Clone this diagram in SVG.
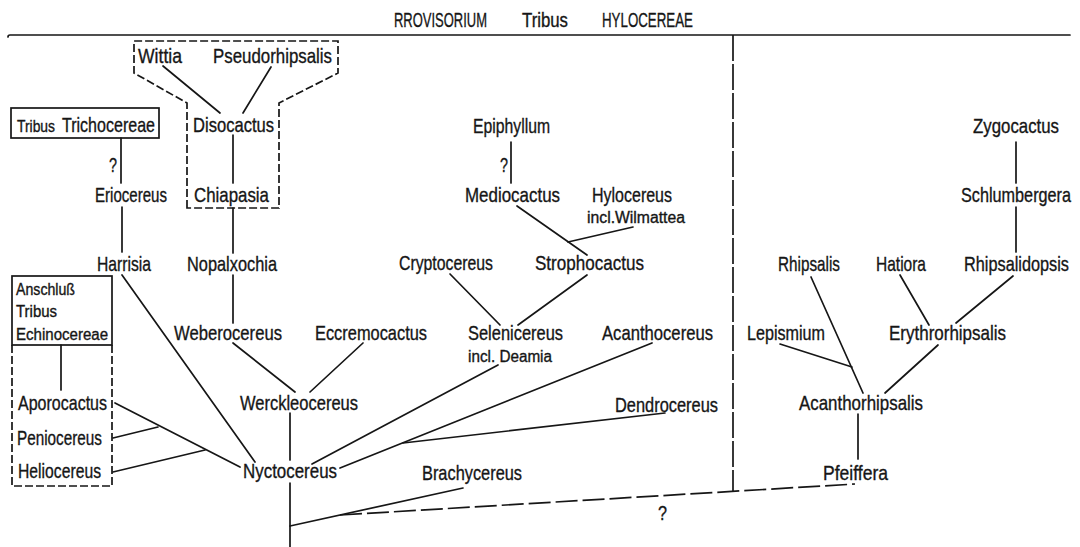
<svg xmlns="http://www.w3.org/2000/svg" width="1080" height="547" viewBox="0 0 1080 547">
  <style>
    text { font-family: "Liberation Sans", "DejaVu Sans", sans-serif; fill: #161616; stroke: #161616; stroke-width: 0.35; }
    .n { font-size: 21px; }
    .s { font-size: 16px; }
    .mid { text-anchor: middle; }
    .end { text-anchor: end; }
    .ln { stroke: #161616; stroke-width: 1.7; fill: none; stroke-linecap: round; }
    .dash { stroke-dasharray: 8 3; stroke-linecap: butt; }
    .longdash { stroke-dasharray: 22 5; stroke-linecap: butt; }
    .sep { stroke-dasharray: 26 3; stroke-linecap: butt; }
  </style>
  <rect width="1080" height="547" fill="#ffffff"/>

  <!-- heading -->
  <g id="heading">
    <text class="n mid" x="440.5" y="27" textLength="93" lengthAdjust="spacingAndGlyphs">RROVISORIUM</text>
    <text class="n mid" x="545" y="27" textLength="46" lengthAdjust="spacingAndGlyphs">Tribus</text>
    <text class="n mid" x="647.5" y="27" textLength="91" lengthAdjust="spacingAndGlyphs">HYLOCEREAE</text>
  </g>

  <!-- connectors -->
  <g id="connectors" class="ln">
    <path d="M8,37 Q8,35 10,35 L1070,35"/>
    <path class="sep" d="M733,35 L733,492"/>
    <path class="longdash" d="M340,515 L855,484"/>
    <path d="M121,138 L121,183"/>
    <path d="M122,207 L122,252"/>
    <path d="M163,66 L220,113"/>
    <path d="M271,67 L243,113"/>
    <path d="M233,135 L233,183"/>
    <path d="M233,208 L233,253"/>
    <path d="M233,275 L233,323"/>
    <path d="M122,275 L255,462"/>
    <path d="M233,343 L295,392"/>
    <path d="M363,343 L310,392"/>
    <path d="M290,413 L290,460"/>
    <path d="M61,345 L61,390"/>
    <path d="M115,403 L240,467"/>
    <path d="M113,438 L158,427"/>
    <path d="M113,472 L205,450"/>
    <path d="M312,464 L498,365"/>
    <path d="M340,468 L652,343"/>
    <path d="M403,443 L665,413"/>
    <path d="M290,483 L290,547"/>
    <path d="M290,526 L463,488"/>
    <path d="M511,142 L511,183"/>
    <path d="M517,206 L587,255"/>
    <path d="M633,227 L568,242"/>
    <path d="M450,274 L500,325"/>
    <path d="M587,275 L518,325"/>
    <path d="M1016,142 L1016,183"/>
    <path d="M1016,207 L1016,252"/>
    <path d="M811,277 L863,393"/>
    <path d="M900,275 L929,325"/>
    <path d="M1013,276 L956,323"/>
    <path d="M780,344 L852,367"/>
    <path d="M938,345 L885,393"/>
    <path d="M858,414 L858,459"/>
  </g>

  <!-- question marks on uncertain links -->
  <g id="uncertain">
    <text class="n" x="109" y="172" textLength="8" lengthAdjust="spacingAndGlyphs">?</text>
    <text class="n" x="500" y="172" textLength="8" lengthAdjust="spacingAndGlyphs">?</text>
    <text class="n" x="658" y="520" textLength="9" lengthAdjust="spacingAndGlyphs">?</text>
  </g>

  <!-- Disocactus group with its dashed outline -->
  <g id="disocactus-group">
    <path class="ln dash" d="M187,208 L187,103 L134,73 L134,41 L338,41 L338,73 L279,103 L279,208 Z"/>
    <g id="wittia"><text class="n" x="138" y="63" textLength="44" lengthAdjust="spacingAndGlyphs">Wittia</text></g>
    <g id="pseudorhipsalis"><text class="n" x="213" y="63" textLength="119" lengthAdjust="spacingAndGlyphs">Pseudorhipsalis</text></g>
    <g id="disocactus"><text class="n" x="193" y="132" textLength="81" lengthAdjust="spacingAndGlyphs">Disocactus</text></g>
    <g id="chiapasia"><text class="n" x="194" y="202" textLength="75" lengthAdjust="spacingAndGlyphs">Chiapasia</text></g>
  </g>

  <g id="trichocereae">
    <rect class="ln" x="11" y="108" width="148" height="30"/>
    <text class="s" x="17" y="132" textLength="38" lengthAdjust="spacingAndGlyphs">Tribus</text>
    <text class="n" x="62" y="132" textLength="93" lengthAdjust="spacingAndGlyphs">Trichocereae</text>
  </g>

  <g id="echinocereae">
    <rect class="ln" x="12" y="276" width="100" height="69"/>
    <path class="ln dash" d="M12,345 L12,486 L112,486 L112,345"/>
    <text class="s" x="16" y="295" textLength="59" lengthAdjust="spacingAndGlyphs">Anschluß</text>
    <text class="s" x="16" y="317" textLength="41" lengthAdjust="spacingAndGlyphs">Tribus</text>
    <text class="s" x="16" y="340" textLength="92" lengthAdjust="spacingAndGlyphs">Echinocereae</text>
  </g>
  <g id="aporocactus"><text class="n" x="18" y="410" textLength="89" lengthAdjust="spacingAndGlyphs">Aporocactus</text></g>
  <g id="peniocereus"><text class="n" x="17" y="445" textLength="85" lengthAdjust="spacingAndGlyphs">Peniocereus</text></g>
  <g id="heliocereus"><text class="n" x="18" y="478" textLength="83" lengthAdjust="spacingAndGlyphs">Heliocereus</text></g>

  <g id="eriocereus"><text class="n" x="95" y="202" textLength="72" lengthAdjust="spacingAndGlyphs">Eriocereus</text></g>
  <g id="harrisia"><text class="n" x="97" y="271" textLength="54" lengthAdjust="spacingAndGlyphs">Harrisia</text></g>
  <g id="nopalxochia"><text class="n" x="187" y="271" textLength="90" lengthAdjust="spacingAndGlyphs">Nopalxochia</text></g>
  <g id="weberocereus"><text class="n" x="174" y="340" textLength="108" lengthAdjust="spacingAndGlyphs">Weberocereus</text></g>
  <g id="eccremocactus"><text class="n" x="315" y="340" textLength="112" lengthAdjust="spacingAndGlyphs">Eccremocactus</text></g>
  <g id="werckleocereus"><text class="n" x="240" y="410" textLength="118" lengthAdjust="spacingAndGlyphs">Werckleocereus</text></g>
  <g id="nyctocereus"><text class="n" x="243" y="478" textLength="94" lengthAdjust="spacingAndGlyphs">Nyctocereus</text></g>
  <g id="brachycereus"><text class="n" x="422" y="480" textLength="100" lengthAdjust="spacingAndGlyphs">Brachycereus</text></g>

  <g id="epiphyllum"><text class="n" x="473" y="133" textLength="77" lengthAdjust="spacingAndGlyphs">Epiphyllum</text></g>
  <g id="mediocactus"><text class="n" x="465" y="202" textLength="95" lengthAdjust="spacingAndGlyphs">Mediocactus</text></g>
  <g id="hylocereus">
    <text class="n" x="592" y="202" textLength="80" lengthAdjust="spacingAndGlyphs">Hylocereus</text>
    <text class="s" x="587" y="223" textLength="98" lengthAdjust="spacingAndGlyphs">incl.Wilmattea</text>
  </g>
  <g id="cryptocereus"><text class="n" x="399" y="270" textLength="94" lengthAdjust="spacingAndGlyphs">Cryptocereus</text></g>
  <g id="strophocactus"><text class="n" x="535" y="270" textLength="109" lengthAdjust="spacingAndGlyphs">Strophocactus</text></g>
  <g id="selenicereus">
    <text class="n" x="468" y="340" textLength="95" lengthAdjust="spacingAndGlyphs">Selenicereus</text>
    <text class="s" x="468" y="362" textLength="84" lengthAdjust="spacingAndGlyphs">incl. Deamia</text>
  </g>
  <g id="acanthocereus"><text class="n" x="602" y="340" textLength="111" lengthAdjust="spacingAndGlyphs">Acanthocereus</text></g>
  <g id="dendrocereus"><text class="n" x="615" y="412" textLength="103" lengthAdjust="spacingAndGlyphs">Dendrocereus</text></g>

  <g id="zygocactus"><text class="n end" x="1059" y="133" textLength="86" lengthAdjust="spacingAndGlyphs">Zygocactus</text></g>
  <g id="schlumbergera"><text class="n end" x="1071" y="202" textLength="110" lengthAdjust="spacingAndGlyphs">Schlumbergera</text></g>
  <g id="rhipsalis"><text class="n" x="778" y="271" textLength="62" lengthAdjust="spacingAndGlyphs">Rhipsalis</text></g>
  <g id="hatiora"><text class="n" x="876" y="271" textLength="50" lengthAdjust="spacingAndGlyphs">Hatiora</text></g>
  <g id="rhipsalidopsis"><text class="n end" x="1069" y="271" textLength="105" lengthAdjust="spacingAndGlyphs">Rhipsalidopsis</text></g>
  <g id="lepismium"><text class="n" x="747" y="340" textLength="78" lengthAdjust="spacingAndGlyphs">Lepismium</text></g>
  <g id="erythrorhipsalis"><text class="n" x="889" y="340" textLength="117" lengthAdjust="spacingAndGlyphs">Erythrorhipsalis</text></g>
  <g id="acanthorhipsalis"><text class="n" x="799" y="410" textLength="124" lengthAdjust="spacingAndGlyphs">Acanthorhipsalis</text></g>
  <g id="pfeiffera"><text class="n" x="823" y="480" textLength="65" lengthAdjust="spacingAndGlyphs">Pfeiffera</text></g>
</svg>
